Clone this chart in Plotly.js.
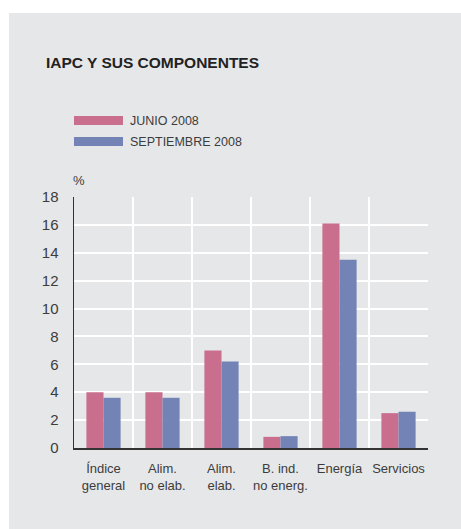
<!DOCTYPE html>
<html>
<head>
<meta charset="utf-8">
<script src="https://cdn.plot.ly/plotly-3.0.1.min.js"></script>
<style>html,body{margin:0;padding:0;background:#fff;}#chart{width:461px;height:529px;}</style>
</head>
<body>
<div id="chart"></div>
<script>
const categories = ['Índice<br>general', 'Alim.<br>no elab.', 'Alim.<br>elab.', 'B. ind.<br>no energ.', 'Energía', 'Servicios'];
const seriesNames = ['JUNIO 2008', 'SEPTIEMBRE 2008'];
const junio = [4.0, 4.0, 7.0, 0.8, 16.1, 2.5];
const septiembre = [3.6, 3.6, 6.2, 0.85, 13.5, 2.6];
const yTicks = [0, 2, 4, 6, 8, 10, 12, 14, 16, 18];
const titleText = 'IAPC Y SUS COMPONENTES';
const unitLabel = '%';

const W = 461, H = 529;
const M = {l: 74, r: 33, t: 197, b: 81};
const PW = W - M.l - M.r, PH = H - M.t - M.b;
const px = x => (x - M.l) / PW;
const py = y => (H - M.b - y) / PH;

const colors = ['#c96e8c', '#7383b5'];
const textColor = '#3c3c3c';
const font = 'Liberation Sans, Arial, Helvetica, sans-serif';

const traces = [
  {type: 'bar', x: categories, y: junio, name: seriesNames[0], marker: {color: colors[0]}},
  {type: 'bar', x: categories, y: septiembre, name: seriesNames[1], marker: {color: colors[1]}}
];

const shapes = [
  {type: 'rect', xref: 'paper', yref: 'paper', x0: px(0), x1: px(9), y0: py(H), y1: py(0), fillcolor: '#ffffff', line: {width: 0}},
  {type: 'rect', xref: 'paper', yref: 'paper', x0: px(0), x1: px(W), y0: py(13), y1: py(0), fillcolor: '#ffffff', line: {width: 0}},
  {type: 'rect', xref: 'paper', yref: 'paper', x0: px(74), x1: px(123), y0: py(125), y1: py(116), fillcolor: colors[0], line: {width: 0}},
  {type: 'rect', xref: 'paper', yref: 'paper', x0: px(74), x1: px(123), y0: py(146), y1: py(137), fillcolor: colors[1], line: {width: 0}}
];

const annotations = [
  {xref: 'paper', yref: 'paper', x: px(128), y: py(120.7), xanchor: 'left', yanchor: 'middle', text: seriesNames[0], showarrow: false, font: {family: font, size: 12.5, color: textColor}},
  {xref: 'paper', yref: 'paper', x: px(128), y: py(141.5), xanchor: 'left', yanchor: 'middle', text: seriesNames[1], showarrow: false, font: {family: font, size: 12.5, color: textColor}},
  {xref: 'paper', yref: 'paper', x: px(71), y: py(180), xanchor: 'left', yanchor: 'middle', text: unitLabel, showarrow: false, font: {family: font, size: 13, color: textColor}}
];

const layout = {
  width: W, height: H,
  margin: M,
  paper_bgcolor: '#e6e7e9',
  plot_bgcolor: '#e6e7e9',
  showlegend: false,
  barmode: 'group',
  bargap: 0.42,
  bargroupgap: 0,
  title: {text: titleText, x: 46 / W, xanchor: 'left', xref: 'container', y: 1 - 62.5 / H, yanchor: 'middle', yref: 'container',
          font: {family: font, size: 15.5, color: '#222222', weight: 'bold'}},
  xaxis: {
    type: 'category', tickson: 'boundaries', showgrid: true, gridcolor: '#ffffff', gridwidth: 2,
    showline: true, linecolor: '#333333', linewidth: 1.5, ticks: '', tickangle: 0,
    ticklabelstandoff: 8,
    tickfont: {family: font, size: 13, color: textColor}, fixedrange: true
  },
  yaxis: {
    range: [0, 18], tickvals: yTicks, ticktext: yTicks.map(String), showgrid: true, gridcolor: '#ffffff', gridwidth: 2,
    showline: true, linecolor: '#333333', linewidth: 1.5, ticks: '', zeroline: false,
    ticklabelstandoff: 11,
    tickfont: {family: font, size: 15, color: textColor}, fixedrange: true
  },
  shapes: shapes,
  annotations: annotations
};

Plotly.newPlot('chart', traces, layout, {staticPlot: true, displayModeBar: false});
</script>
</body>
</html>
